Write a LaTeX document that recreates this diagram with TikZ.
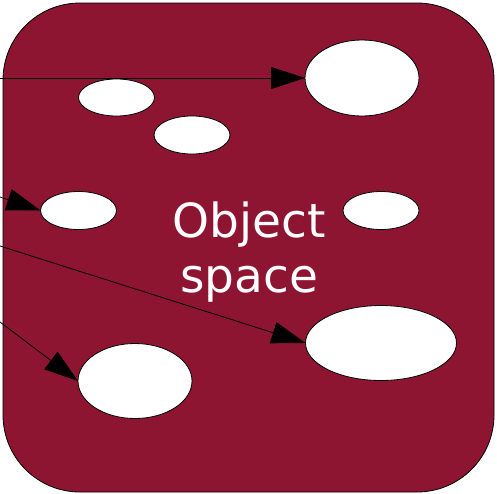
\documentclass[tikz,border=0pt]{standalone}
\usepackage{fontspec}
\setmainfont{DejaVu Sans}
\usetikzlibrary{shapes.geometric,arrows.meta}
\definecolor{spacered}{RGB}{142,21,50}
\begin{document}
\begin{tikzpicture}[x=1pt,y=-1pt,
    obj/.style={ellipse,fill=white,draw=black,line width=0.8pt,inner sep=0pt,outer sep=0pt},
    ref/.style={line width=0.8pt,-{Triangle[length=34pt,width=22pt]}}]
        \useasboundingbox (0,0) rectangle (497,493);
        \draw[fill=spacered,draw=black,line width=0.8pt,rounded corners=77pt]
              (3,3) rectangle (494,492);

        \node[obj,minimum width=114pt,minimum height=76pt] (big1) at (362,78) {};
        \node[obj,minimum width=76pt,minimum height=37pt] (small1) at (116.5,97.5) {};
        \node[obj,minimum width=76pt,minimum height=38pt] (small2) at (192,135) {};
        \node[obj,minimum width=76pt,minimum height=38pt] (small3) at (78.5,210.5) {};
        \node[obj,minimum width=76pt,minimum height=38pt] (small4) at (381,210.5) {};
        \node[obj,minimum width=151pt,minimum height=75pt] (big2) at (381,343) {};
        \node[obj,minimum width=114pt,minimum height=75pt] (big3) at (135,381) {};

        \node[text=white,align=center,font=\fontsize{47}{55}\selectfont] (label) at (249,252)
              {Object\\space};

        \coordinate (in1) at (0,78);
        \coordinate (in2) at (0,197);
        \coordinate (in3) at (0,246);
        \coordinate (in4) at (0,322);
        \draw[ref] (in1) -- (big1.west);
        \draw[ref] (in2) -- (small3.west);
        \draw[ref] (in3) -- (big2.west);
        \draw[ref] (in4) -- (big3.west);
      \end{tikzpicture}
\end{document}
